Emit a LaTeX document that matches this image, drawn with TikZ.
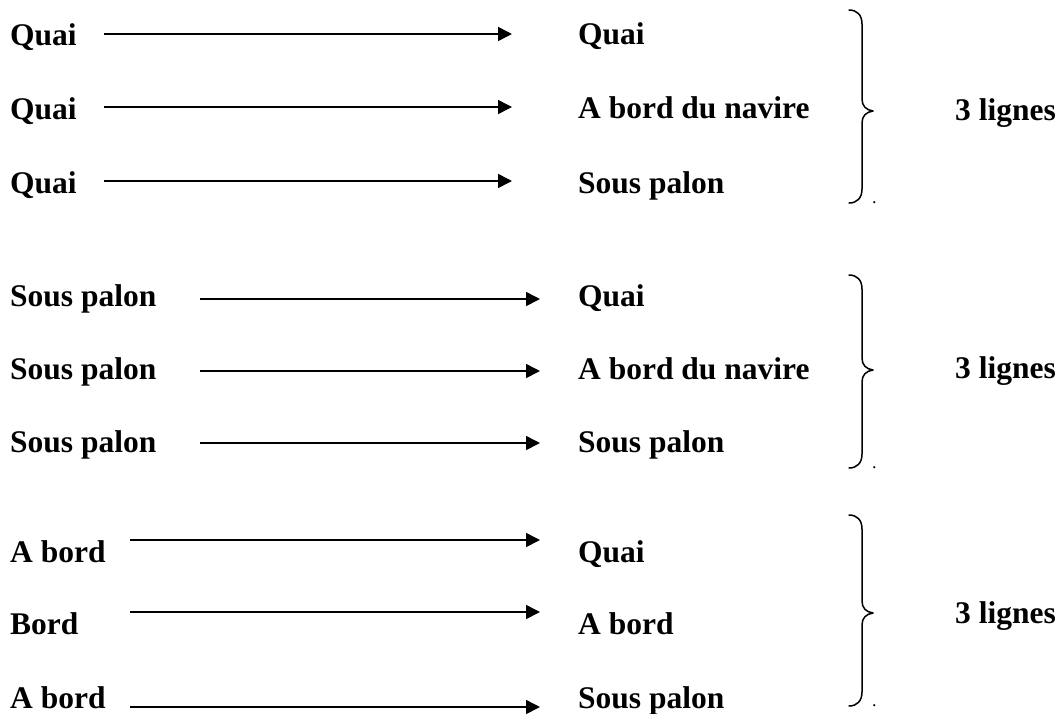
\documentclass[tikz,border=0pt]{standalone}
\usepackage{fontspec}
\setmainfont{Liberation Serif}
\usetikzlibrary{arrows.meta}
\begin{document}
\begin{tikzpicture}[x=1pt,y=-1pt,
  lbl/.style={anchor=base west,inner sep=0pt,font=\fontsize{31.5}{36}\selectfont\bfseries},
  flow/.style={line width=1.6pt,-{Triangle[length=14pt,width=14pt]}},
  brace/.style={line width=1.5pt,line cap=round,line join=round},
  stop/.style={anchor=base west,inner sep=0pt,font=\fontsize{18}{20}\selectfont},
  ]
\useasboundingbox (0,0) rectangle (1058,713);

% ---- first group: from the quay
\node[lbl] (a1) at (10,45)  {Quai};
\node[lbl] (a2) at (10,119) {Quai};
\node[lbl] (a3) at (10,193) {Quai};
\node[lbl] (b1) at (578,44)  {Quai};
\node[lbl] (b2) at (578,118) {A bord du navire};
\node[lbl] (b3) at (578,193) {Sous palon};
\coordinate (s1) at (104,34);  \coordinate (e1) at (512,34);
\coordinate (s2) at (104,107); \coordinate (e2) at (512,107);
\coordinate (s3) at (104,181); \coordinate (e3) at (512,181);
\draw[flow] (s1) -- (e1);
\draw[flow] (s2) -- (e2);
\draw[flow] (s3) -- (e3);
\node[lbl] (n1) at (955,120) {3 lignes};

% ---- second group: from under the sling
\node[lbl] (c1) at (10,306) {Sous palon};
\node[lbl] (c2) at (10,379) {Sous palon};
\node[lbl] (c3) at (10,452) {Sous palon};
\node[lbl] (d1) at (578,306) {Quai};
\node[lbl] (d2) at (578,379) {A bord du navire};
\node[lbl] (d3) at (578,452) {Sous palon};
\coordinate (t1) at (200,299); \coordinate (f1) at (540,299);
\coordinate (t2) at (200,371); \coordinate (f2) at (540,371);
\coordinate (t3) at (200,443); \coordinate (f3) at (540,443);
\draw[flow] (t1) -- (f1);
\draw[flow] (t2) -- (f2);
\draw[flow] (t3) -- (f3);
\node[lbl] (n2) at (955,378) {3 lignes};

% ---- third group: from on board
\node[lbl] (g1) at (10,562) {A bord};
\node[lbl] (g2) at (10,634) {Bord};
\node[lbl] (g3) at (10,708) {A bord};
\node[lbl] (h1) at (578,562) {Quai};
\node[lbl] (h2) at (578,634) {A bord};
\node[lbl] (h3) at (578,708) {Sous palon};
\coordinate (u1) at (130,540); \coordinate (k1) at (540,540);
\coordinate (u2) at (130,612); \coordinate (k2) at (540,612);
\coordinate (u3) at (130,707); \coordinate (k3) at (540,707);
\draw[flow] (u1) -- (k1);
\draw[flow] (u2) -- (k2);
\draw[flow] (u3) -- (k3);
\node[lbl] (n3) at (955,623) {3 lignes};

% ---- right braces, each followed by a small full stop
\foreach \t/\m/\b/\n in {10/111/203/1, 275/370/468/2, 515/613/706/3}{
  \draw[brace] (849,\t) .. controls (857,\t) and (862,\t+5) .. (862,\t+14)
    -- (862,\m-12) .. controls (862,\m-5) and (866,\m-1) .. (873,\m)
    .. controls (866,\m+1) and (862,\m+5) .. (862,\m+12)
    -- (862,\b-14) .. controls (862,\b-5) and (857,\b) .. (849,\b);
  \node[stop] (p\n) at (872,\b) {.};
}
\end{tikzpicture}
\end{document}
